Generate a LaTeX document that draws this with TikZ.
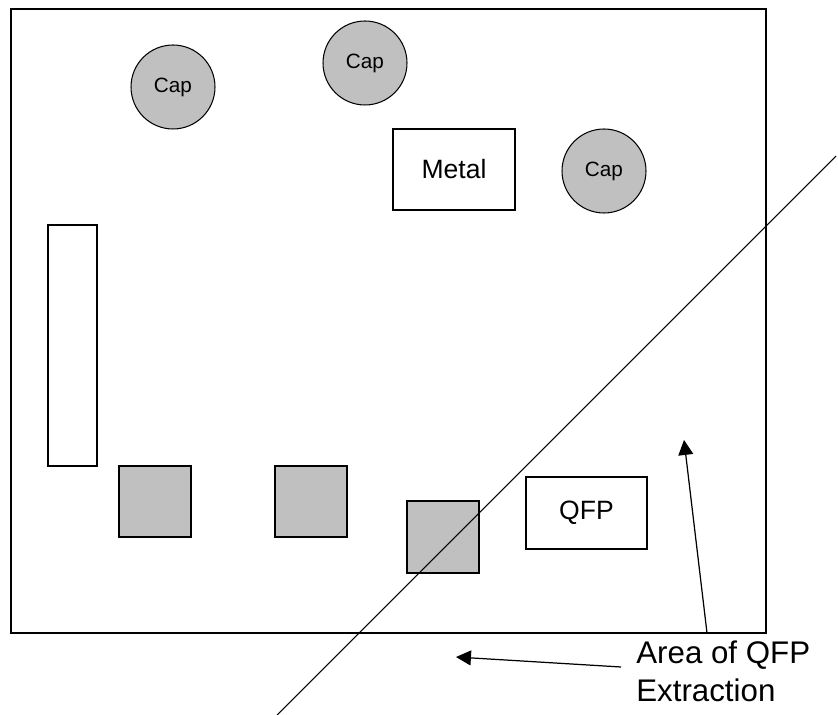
\documentclass[tikz,border=0pt]{standalone}
\usepackage{fontspec}
\setmainfont{Liberation Sans}
\usepackage{xcolor}
\usepackage{tikz}
\usetikzlibrary{arrows.meta}

\definecolor{partgray}{RGB}{192,192,192}

\begin{document}
\begin{tikzpicture}[x=0.02cm,y=-0.02cm]
\useasboundingbox (0,0) rectangle (838,715);

\node (board) at (388.5,321) [rectangle,draw,line width=0.8pt,minimum width=15.1cm,minimum height=12.48cm] {};

\begin{scope}[every node/.style={draw,line width=0.6pt,inner sep=0pt,outer sep=0pt}]
    \node (C1) at (173,87) [circle,fill=partgray,minimum size=1.68cm,font=\fontsize{11.8}{14}\selectfont] {Cap};
    \node (C2) at (365,63) [circle,fill=partgray,minimum size=1.68cm,font=\fontsize{11.8}{14}\selectfont] {Cap};
    \node (C3) at (604,171) [circle,fill=partgray,minimum size=1.68cm,font=\fontsize{11.8}{14}\selectfont] {Cap};
    \node (M) at (454,169.5) [rectangle,minimum width=2.44cm,minimum height=1.62cm,font=\fontsize{15.1}{18}\selectfont] {Metal};
    \node (Q) at (586.5,513) [rectangle,minimum width=2.42cm,minimum height=1.44cm,font=\fontsize{15.1}{18}\selectfont] {QFP};
    \node (R) at (72.5,345.5) [rectangle,minimum width=0.98cm,minimum height=4.82cm] {};
    \node (S1) at (155,501.5) [rectangle,fill=partgray,minimum width=1.44cm,minimum height=1.42cm] {};
    \node (S2) at (311,501.5) [rectangle,fill=partgray,minimum width=1.44cm,minimum height=1.42cm] {};
    \node (S3) at (443,537) [rectangle,fill=partgray,minimum width=1.44cm,minimum height=1.44cm] {};
    \end{scope}

\node (L) at (636,641) [anchor=north west,inner sep=0pt,align=left,font=\fontsize{17.8}{21.6}\selectfont] {Area of QFP\\Extraction};

\coordinate (cutA) at (277,715);
\coordinate (cutB) at (836,156);
\coordinate (upTail) at (707,633);
\coordinate (upTip) at (684,440);
\coordinate (leftTail) at (621,667);
\coordinate (leftTip) at (456,657);

\draw [line width=0.6pt] (cutA) -- (cutB);

\begin{scope}[>={Triangle[length=8.5pt,width=8.5pt]},
              every edge/.style={draw=black,line width=0.7pt}]
    \path [->] (upTail) edge (upTip);
    \path [->] (leftTail) edge (leftTip);
    \end{scope}

\end{tikzpicture}
\end{document}
